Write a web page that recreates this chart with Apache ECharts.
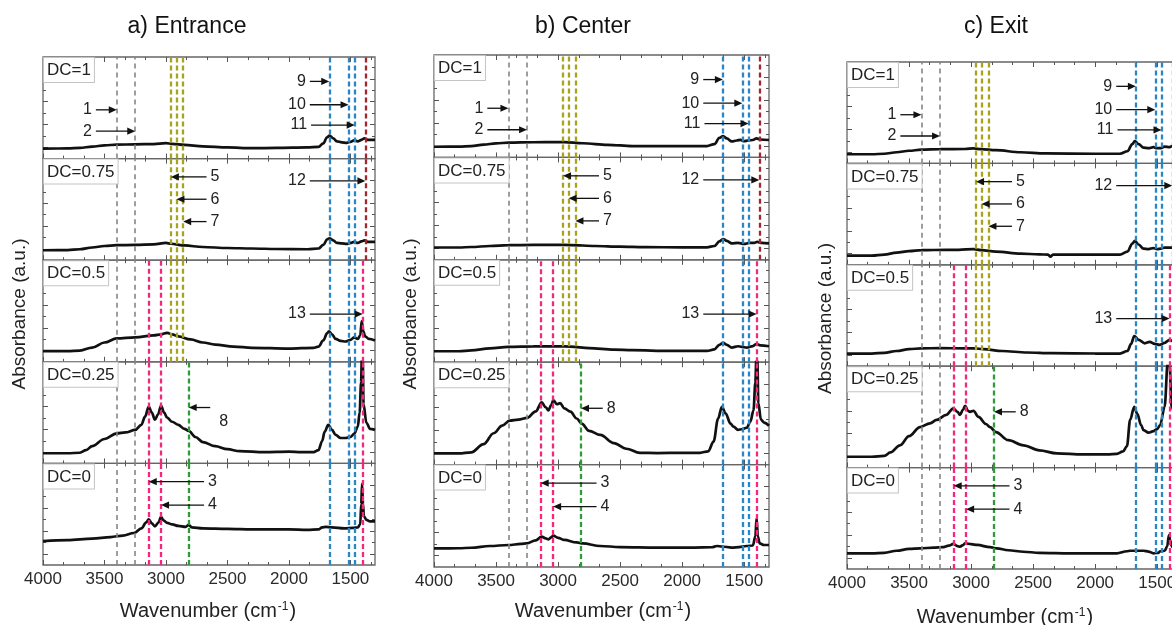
<!DOCTYPE html>
<html><head><meta charset="utf-8">
<script src="https://cdn.jsdelivr.net/npm/echarts@6.0.0/dist/echarts.min.js"></script>
<style>html,body{margin:0;padding:0;background:#fff;}#chart{width:1172px;height:625px;}</style>
</head><body><div id="chart"></div>
<script>
// ================= DATA =================
const columnTitles = ['a) Entrance', 'b) Center', 'c) Exit'];
const dcLabels = ['DC=1', 'DC=0.75', 'DC=0.5', 'DC=0.25', 'DC=0'];
const xTickLabels = [4000, 3500, 3000, 2500, 2000, 1500];
const yAxisTitle = 'Absorbance (a.u.)';

// marked bands (number -> wavenumber, cm-1) and the panels (row range) where each dashed line is drawn
const bandNumbers     = [1, 2, 3, 4, 5, 6, 7, 8, 9, 10, 11, 12, 13];
const bandWavenumbers = [3400, 3250, 3140, 3040, 2960, 2915, 2860, 2815, 1672, 1515, 1465, 1378, 1400];
const bandRows        = [[0,4],[0,4],[2,4],[2,4],[0,2],[0,2],[0,2],[3,4],[0,4],[0,4],[0,4],[0,1],[2,4]];

// spectra: [wavenumber (cm-1), absorbance (a.u., offset within panel)]
const entrance_DC1 = [[4000,9.8],[3800,10],[3700,10.5],[3600,11.8],[3500,13],[3400,13.8],[3250,14],[3100,14.3],[3000,15.2],[2950,14.5],[2850,13.5],[2700,12],[2500,11],[2300,10.3],[2100,10.5],[1850,11],[1760,11.5],[1720,15],[1690,21],[1670,22.6],[1640,20],[1610,17],[1570,16],[1530,15.5],[1500,16.5],[1470,18],[1440,17],[1410,18.5],[1385,20],[1360,18.5],[1300,18.5]];
const entrance_DC075 = [[4000,9.8],[3800,10],[3700,10.8],[3600,12.5],[3500,14],[3400,14.8],[3250,15],[3100,15.5],[3000,17],[2960,16.2],[2850,14.5],[2700,13],[2500,12],[2300,11.5],[2100,11],[1850,10.8],[1760,11.5],[1720,15],[1690,20.5],[1670,21.6],[1640,19.5],[1610,17],[1570,16.5],[1530,16],[1500,17],[1470,18],[1440,17],[1410,18.5],[1385,19.5],[1360,18],[1300,18]];
const entrance_DC05 = [[4000,10.5],[3800,10.5],[3700,11],[3600,14],[3500,19],[3400,23],[3250,24],[3100,26],[3040,27],[2990,28.5],[2950,27],[2900,25],[2800,22],[2700,19],[2600,17],[2450,15],[2300,13.8],[2000,13],[1800,13.8],[1760,15],[1720,21],[1690,28],[1675,30],[1650,27],[1620,22.5],[1580,20.5],[1540,20],[1500,21.5],[1470,24],[1440,22.5],[1420,26],[1408,40],[1395,30],[1380,25],[1350,22.5],[1300,21]];
const entrance_DC025 = [[4000,10],[3800,10],[3700,10.5],[3650,13],[3600,17],[3500,24],[3400,29.5],[3330,30.5],[3250,33],[3200,38],[3170,46],[3140,56],[3115,50],[3090,43],[3065,48],[3040,57],[3015,50],[2990,45],[2950,41],[2900,38],[2850,34],[2815,32],[2760,26],[2700,21],[2600,17],[2500,14],[2400,12],[2200,11],[2000,11.5],[1900,11],[1800,11],[1760,13],[1730,22],[1710,31],[1680,38],[1650,33],[1620,28],[1580,25],[1540,25],[1500,26],[1470,29],[1440,36],[1425,50],[1413,80],[1407,104],[1400,104],[1393,58],[1370,40],[1340,34],[1300,33]];
const entrance_DC0 = [[4000,23.5],[3800,24.5],[3600,26],[3450,27.5],[3350,29],[3260,31.5],[3200,36],[3160,42],[3140,45],[3115,41],[3090,38],[3060,42],[3040,47.5],[3020,44],[2990,41.5],[2950,40],[2900,38.5],[2840,37.5],[2815,39.5],[2790,37],[2700,36],[2500,35.5],[2300,35],[2000,35],[1850,34.5],[1760,35],[1730,37],[1700,37.5],[1650,37],[1550,36],[1480,36.5],[1440,37],[1420,40],[1412,60],[1405,80],[1398,60],[1390,48],[1370,44.5],[1340,43],[1300,43]];

const center_DC1 = [[4000,10.4],[3800,10.5],[3700,11],[3600,12.5],[3500,13.7],[3400,14.4],[3200,14.8],[3000,15],[2950,15],[2800,13.8],[2600,12.3],[2400,11],[2100,11],[1800,11],[1740,13],[1700,19],[1670,20.9],[1640,18.5],[1600,15.6],[1560,16.5],[1530,17.2],[1500,15.8],[1470,16.5],[1430,17],[1400,18.6],[1370,17.5],[1300,17]];
const center_DC075 = [[4000,12],[3800,12],[3700,12.5],[3550,13.5],[3400,14.3],[3200,14.5],[3000,14.7],[2900,14.4],[2700,13.5],[2500,12.8],[2300,12.3],[2000,12.2],[1800,12.2],[1740,13.5],[1700,18],[1670,20.3],[1640,18.5],[1600,16],[1550,16.5],[1500,15.5],[1460,16.5],[1420,16.5],[1395,17.5],[1360,16.5],[1300,16]];
const center_DC05 = [[4000,10.7],[3800,10.7],[3700,11.5],[3550,13.5],[3400,15],[3200,15.5],[3000,15.6],[2900,15.3],[2750,13.8],[2550,12.3],[2400,11.7],[2100,11],[1800,11],[1740,12.5],[1700,17],[1670,18.9],[1640,17],[1600,14.3],[1550,15.6],[1520,15],[1480,14.3],[1440,15.5],[1400,17.6],[1370,16.5],[1300,15.6]];
const center_DC025 = [[4000,11],[3800,11],[3700,12],[3600,20],[3520,30.6],[3450,38],[3390,43],[3320,44],[3250,45.6],[3180,52],[3132,60.8],[3100,56],[3078,53],[3055,58],[3038,63],[3010,59],[2984,60],[2950,55],[2900,51.7],[2850,45],[2810,40],[2750,33],[2660,29],[2550,21],[2450,15.5],[2340,11.5],[2200,11.3],[2000,11.5],[1855,11.5],[1790,13],[1747,22.4],[1710,45],[1680,56.5],[1650,50],[1610,40],[1586,37],[1550,34],[1520,34.5],[1480,36],[1450,42],[1425,53],[1410,80],[1402,104],[1394,104],[1386,60],[1365,44],[1340,41],[1300,38]];
const center_DC0 = [[4000,18.2],[3800,18.3],[3700,18.8],[3550,20.5],[3400,21.5],[3300,22.5],[3253,23],[3180,26],[3132,29.6],[3100,28],[3078,27],[3055,29],[3038,30.6],[3000,28.5],[2950,26.4],[2850,24],[2800,23],[2660,20.5],[2500,19.5],[2200,19],[1900,19],[1760,19.3],[1720,20.5],[1680,20],[1600,19],[1540,19.5],[1480,20.5],[1430,21],[1410,30],[1400,47.5],[1390,30],[1375,23],[1340,21.5],[1300,21.5]];

const exit_DC1 = [[4000,9],[3800,9],[3700,9.5],[3600,11],[3500,12.5],[3400,13.5],[3250,14],[3050,14.2],[2980,14.8],[2920,14],[2800,13],[2600,11],[2400,9.8],[2000,9.5],[1800,9.5],[1740,12],[1700,19],[1680,22],[1650,19],[1610,15.5],[1570,15],[1530,16],[1500,15],[1470,15],[1440,16.5],[1400,16],[1380,17],[1300,16.5]];
const exit_DC075 = [[4000,9],[3800,9],[3700,10],[3600,12],[3500,13.5],[3400,14.5],[3300,14.6],[3100,14.8],[2980,15.5],[2920,14.5],[2800,13],[2600,11],[2450,10.3],[2380,10],[2360,8],[2340,10],[2200,10],[2000,10],[1800,10],[1740,13],[1700,21],[1680,23.5],[1650,20],[1610,16],[1570,15.5],[1530,16.5],[1500,15.5],[1470,16],[1440,17],[1400,17],[1300,17]];
const exit_DC05 = [[4000,12.5],[3800,12.5],[3700,13.2],[3600,15],[3500,16.8],[3400,17.6],[3250,17.8],[3050,17.6],[2980,17.6],[2900,16.8],[2750,15],[2550,13.5],[2350,12.8],[2000,12.5],[1800,12.5],[1740,15],[1710,22],[1685,29.8],[1650,26],[1600,22.6],[1560,24],[1520,22],[1480,21],[1440,23],[1400,26],[1380,25],[1300,24]];
const exit_DC025 = [[4000,10.7],[3800,10.7],[3700,11.5],[3650,15],[3573,22],[3500,31],[3411,40],[3331,43.7],[3277,47],[3200,52],[3143,58.5],[3110,55],[3089,52],[3065,57],[3048,61],[3025,56],[3008,55],[2981,56],[2940,50],[2880,43],[2847,40],[2800,35],[2700,27],[2578,22],[2450,17],[2309,14],[2100,13],[1900,13],[1825,13.5],[1775,16],[1744,21],[1718,47],[1685,60],[1660,53],[1630,42],[1610,37],[1570,34.5],[1530,35.9],[1500,38],[1476,42],[1440,60],[1415,104],[1400,104],[1385,60],[1340,45],[1300,42]];
const exit_DC0 = [[4000,15.5],[3800,15.5],[3700,16],[3600,18],[3500,19.8],[3411,20.4],[3300,21],[3230,21.5],[3180,23],[3143,24.7],[3110,22.5],[3089,22],[3065,23.5],[3048,25.3],[3000,24.5],[2950,23.7],[2847,21.5],[2793,20.4],[2700,18.5],[2578,17],[2450,16],[2200,15.5],[2000,15.5],[1825,15.5],[1744,17.5],[1718,18],[1685,18],[1610,18],[1570,17.2],[1530,15.5],[1490,16],[1476,17.5],[1440,18],[1420,22],[1405,33.5],[1395,28],[1380,22],[1300,20]];

const spectra = [
  [entrance_DC1, entrance_DC075, entrance_DC05, entrance_DC025, entrance_DC0],
  [center_DC1, center_DC075, center_DC05, center_DC025, center_DC0],
  [exit_DC1, exit_DC075, exit_DC05, exit_DC025, exit_DC0]
];

// ================= LAYOUT / STYLE =================
const FONT = '"Liberation Sans", Arial, sans-serif';
const X_MIN = 1300, X_MAX = 4000;
const colLayout = [
  {left: 43,  width: 332, top: 57, height: 508, titleX: 187, yTitleX: 20,  xTitleX: 208, xTitleY: 611},
  {left: 434, width: 335, top: 55, height: 512, titleX: 583, yTitleX: 411, xTitleX: 603, xTitleY: 611},
  {left: 847, width: 335, top: 62, height: 507, titleX: 996, yTitleX: 826, xTitleX: 1005, xTitleY: 617}
];
const bandColor = {1:'#858585',2:'#858585',3:'#f2287c',4:'#f2287c',5:'#a8a31c',6:'#a8a31c',7:'#a8a31c',8:'#2f9a3a',9:'#2b86c5',10:'#2b86c5',11:'#2b86c5',12:'#a3262e',13:'#f2287c'};
// annotation arrows: row, level (panel %), tail wavenumber
const annotLayout = {
  1:{row:0,v:48,tail:3570}, 2:{row:0,v:27,tail:3570}, 9:{row:0,v:76,tail:1830}, 10:{row:0,v:53,tail:1830}, 11:{row:0,v:33,tail:1820},
  5:{row:1,v:82,tail:2670}, 6:{row:1,v:60,tail:2670}, 7:{row:1,v:38,tail:2670}, 12:{row:1,v:78,tail:1830},
  13:{row:2,v:47,tail:1830}, 8:{row:3,v:55,tail:2640}, 3:{row:4,v:82,tail:2690}, 4:{row:4,v:59,tail:2690}
};
const yMajor = [11, 33.5, 56, 78.5];
const yMinor = [22.25, 44.75, 67.25, 89.75];
const xMinor = [];
xTickLabels.forEach(m => { [m - 500/3, m - 1000/3].forEach(v => { if (v > X_MIN) xMinor.push(v); }); });
const AX = '#555';

const grids = [], xAxes = [], yAxes = [], series = [], graphics = [];

function xAx(g, pos, vals, len, showLabel) {
  return {type:'value', gridIndex:g, position:pos, min:X_MIN, max:X_MAX, inverse:true,
    axisLine:{show:false, onZero:false}, splitLine:{show:false},
    axisTick:{show:true, inside:true, length:len, customValues:vals, lineStyle:{color:AX, width:1}},
    axisLabel:{show:showLabel, customValues:xTickLabels, margin:6, fontSize:17, color:'#2a2a2a', fontFamily:FONT,
      formatter: v => String(v)}};
}
function yAx(g, pos, vals, len) {
  return {type:'value', gridIndex:g, position:pos, min:0, max:100,
    axisLine:{show:false, onZero:false}, splitLine:{show:false}, axisLabel:{show:false},
    axisTick:{show:true, inside:true, length:len, customValues:vals, lineStyle:{color:AX, width:1}}};
}

colLayout.forEach((L, c) => {
  const ph = L.height / 5;
  for (let r = 0; r < 5; r++) {
    const g = c * 5 + r;
    const top = L.top + r * ph;
    grids.push({left:L.left, top:top, width:L.width, height:ph, show:true, borderColor:'#666', borderWidth:1.3,
      backgroundColor:'transparent', containLabel:false, outerBoundsMode:'none'});
    const xi = xAxes.length;
    xAxes.push(xAx(g,'bottom',xTickLabels,5,r===4), xAx(g,'bottom',xMinor,3,false), xAx(g,'top',xTickLabels,5,false), xAx(g,'top',xMinor,3,false));
    const yi = yAxes.length;
    yAxes.push(yAx(g,'left',yMajor,5), yAx(g,'right',yMajor,5), yAx(g,'left',yMinor,3), yAx(g,'right',yMinor,3));

    // dashed band lines in this panel
    const mlData = [];
    bandNumbers.forEach((b, i) => {
      const [r0, r1] = bandRows[i];
      if (r >= r0 && r <= r1) {
        const gray = (b === 1 || b === 2);
        mlData.push({xAxis: bandWavenumbers[i], lineStyle:{color:bandColor[b], type: gray ? [5,4] : [5,3], width: gray ? 1.6 : 2.3}});
      }
    });
    series.push({type:'line', xAxisIndex:xi, yAxisIndex:yi, data:spectra[c][r], showSymbol:false,
      smooth:0.35, smoothMonotone:'x', clip:true, animation:false, silent:true, z:2,
      lineStyle:{color:'#111', width:2.7},
      markLine:{silent:true, animation:false, symbol:['none','none'], label:{show:false}, data:mlData}});

    // annotation arrows for this panel
    const ann = [], annLabels = [];
    bandNumbers.forEach((b, i) => {
      const a = annotLayout[b];
      if (a && a.row === r) { ann.push([bandWavenumbers[i], a.tail, a.v]); annLabels.push(String(b)); }
    });
    if (ann.length) {
      const dyMap = (c === 0) ? {'8': 14} : {};
      series.push({type:'custom', xAxisIndex:xi, yAxisIndex:yi, data:ann, silent:true, animation:false, z:6, clip:false,
        encode:{x:[0,1], y:2},
        renderItem: function(params, api) {
          const h = api.coord([api.value(0), api.value(2)]);
          const t = api.coord([api.value(1), api.value(2)]);
          const dir = h[0] > t[0] ? 1 : -1;
          const lab = annLabels[params.dataIndex];
          const AL = 8, AW = 3.6;
          const dy = dyMap[lab] || 0;
          return {type:'group', children:[
            {type:'line', shape:{x1:t[0], y1:t[1], x2:h[0]-dir*AL*0.7, y2:h[1]}, style:{stroke:'#111', lineWidth:1.3}},
            {type:'polygon', shape:{points:[[h[0],h[1]],[h[0]-dir*AL,h[1]-AW],[h[0]-dir*AL,h[1]+AW]]}, style:{fill:'#111'}},
            {type:'text', x: t[0] - dir*(dy ? 9 : 4), y: t[1] + dy,
              style:{text:lab, align: dir > 0 ? 'right' : 'left', verticalAlign:'middle', fontSize:16, fill:'#222', fontFamily:FONT}}
          ]};
        }});
    }

    // DC label box
    graphics.push({type:'text', x:L.left + 1, y:top + 1, z:10, silent:true,
      style:{text:dcLabels[r], fontSize:17, fill:'#222', fontFamily:FONT, backgroundColor:'#fff',
        borderColor:'#c4c4c4', borderWidth:1, padding:[4,3,3,3]}});
  }
  graphics.push({type:'text', x:L.titleX, y:27, silent:true,
    style:{text:columnTitles[c], fontSize:23, fill:'#111', fontFamily:FONT, align:'center', verticalAlign:'middle'}});
  graphics.push({type:'text', x:L.yTitleX, y:L.top + L.height/2 + 3, rotation:Math.PI/2, silent:true,
    style:{text:yAxisTitle, fontSize:19, fill:'#222', fontFamily:FONT, align:'center', verticalAlign:'middle'}});
  graphics.push({type:'text', x:L.xTitleX, y:L.xTitleY, silent:true,
    style:{text:'Wavenumber (cm{s|-1})', fontSize:20, fill:'#222', fontFamily:FONT, align:'center', verticalAlign:'middle',
      rich:{s:{fontSize:12, fill:'#222', fontFamily:FONT, verticalAlign:'top', padding:[0,1,8,1]}}}});
});

const chart = echarts.init(document.getElementById('chart'), null, {renderer:'canvas'});
chart.setOption({animation:false, backgroundColor:'#fff', grid:grids, xAxis:xAxes, yAxis:yAxes, series:series, graphic:graphics});
</script></body></html>
